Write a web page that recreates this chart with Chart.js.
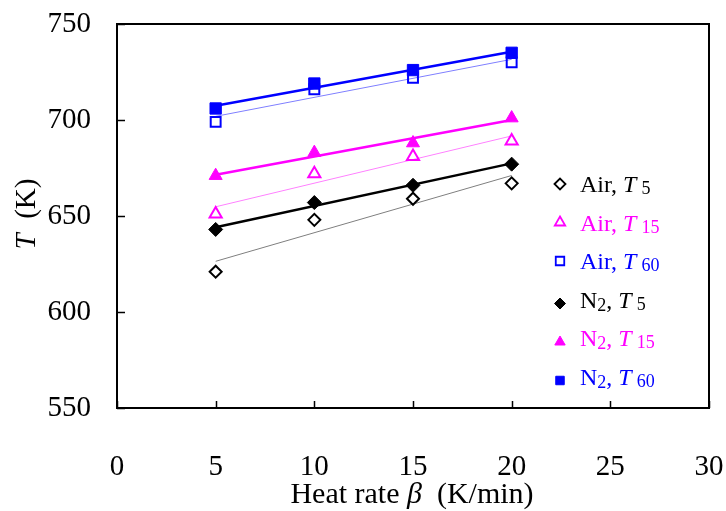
<!DOCTYPE html>
<html>
<head>
<meta charset="utf-8">
<title>T vs heat rate</title>
<script src="https://cdn.jsdelivr.net/npm/chart.js@4.4.0/dist/chart.umd.min.js"></script>
<style>
  html, body { margin: 0; padding: 0; background: #fff; }
  #wrap { width: 726px; height: 511px; }
</style>
</head>
<body>
<div id="wrap"><canvas id="chart" width="726" height="511"></canvas></div>
<script>
// heat rate (K/min) and characteristic temperatures (K)
const heatRates = [5, 10, 15, 20];
const airT5  = [621, 648, 659, 667];
const airT15 = [651, 672, 681, 689];
const airT60 = [699, 716, 722, 730];
const n2T5   = [643, 657, 666, 677];
const n2T15  = [671, 683, 688, 701];
const n2T60  = [706, 719, 726, 735];

const xTicks = [0, 5, 10, 15, 20, 25, 30];
const yTicks = [550, 600, 650, 700, 750];

const SERIF = '"Liberation Serif", "DejaVu Serif", serif';
const BLACK = '#000000', MAGENTA = '#FF00FF', BLUE = '#0000FF';

// gas, subscript of T, values, marker, filled, colour, trend colour/width
const series = [
  { gas: 'Air', sub: '5',  data: airT5,  style: 'rectRot',  fill: false, color: BLACK,   line: '#7f7f7f', lw: 1,   r: 6 },
  { gas: 'Air', sub: '15', data: airT15, style: 'triangle', fill: false, color: MAGENTA, line: '#ff80ff', lw: 1,   r: 7 },
  { gas: 'Air', sub: '60', data: airT60, style: 'rect',     fill: false, color: BLUE,    line: '#7f7fff', lw: 1,   r: 7 },
  { gas: 'N2',  sub: '5',  data: n2T5,   style: 'rectRot',  fill: true,  color: BLACK,   line: BLACK,     lw: 2.5, r: 7 },
  { gas: 'N2',  sub: '15', data: n2T15,  style: 'triangle', fill: true,  color: MAGENTA, line: MAGENTA,   lw: 2.5, r: 7.5 },
  { gas: 'N2',  sub: '60', data: n2T60,  style: 'rect',     fill: true,  color: BLUE,    line: BLUE,      lw: 2.5, r: 8 }
];

// least squares straight line through a series, ends at first and last x
function fitLine(xs, ys) {
  const n = xs.length;
  const mx = xs.reduce((a, b) => a + b, 0) / n;
  const my = ys.reduce((a, b) => a + b, 0) / n;
  let sxy = 0, sxx = 0;
  for (let i = 0; i < n; i++) {
    sxy += (xs[i] - mx) * (ys[i] - my);
    sxx += (xs[i] - mx) * (xs[i] - mx);
  }
  const k = sxy / sxx;
  const b = my - k * mx;
  return [{ x: xs[0], y: k * xs[0] + b }, { x: xs[n - 1], y: k * xs[n - 1] + b }];
}

const datasets = [];
series.forEach(s => {
  datasets.push({
    label: s.gas + ' T' + s.sub,
    data: heatRates.map((x, i) => ({ x: x, y: s.data[i] })),
    showLine: false,
    pointStyle: s.style,
    pointRadius: s.r,
    pointHoverRadius: s.r,
    pointBorderWidth: s.fill ? 1 : 2,
    pointBackgroundColor: s.fill ? s.color : 'rgba(0,0,0,0)',
    pointBorderColor: s.color,
    order: 0
  });
});
series.forEach(s => {
  datasets.push({
    label: s.gas + ' T' + s.sub + ' fit',
    data: fitLine(heatRates, s.data),
    showLine: true,
    pointRadius: 0,
    borderColor: s.line,
    borderWidth: s.lw,
    order: 1
  });
});

// draws a run of text pieces one after another; returns the end x
function drawRuns(ctx, runs, x, y, color) {
  ctx.fillStyle = color;
  ctx.textBaseline = 'alphabetic';
  ctx.textAlign = 'left';
  runs.forEach(r => {
    x += r.gap || 0;
    ctx.font = r.font;
    ctx.fillText(r.t, x, y + (r.dy || 0));
    x += ctx.measureText(r.t).width;
  });
  return x;
}

function runsWidth(ctx, runs) {
  let w = 0;
  runs.forEach(r => { ctx.font = r.font; w += (r.gap || 0) + ctx.measureText(r.t).width; });
  return w;
}

const frameAndLabels = {
  id: 'frameAndLabels',
  beforeDatasetsDraw(chart) {
    const ctx = chart.ctx;
    const a = chart.chartArea;
    const xs = chart.scales.x, ys = chart.scales.y;
    ctx.save();
    ctx.strokeStyle = '#000';
    ctx.lineWidth = 2;
    ctx.strokeRect(a.left, a.top, a.right - a.left, a.bottom - a.top);
    // tick marks pointing into the plot
    ctx.beginPath();
    xTicks.forEach(v => {
      const px = Math.round(xs.getPixelForValue(v)) + 0.5;
      ctx.moveTo(px, a.bottom);
      ctx.lineTo(px, a.bottom - 7);
    });
    yTicks.forEach(v => {
      const py = Math.round(ys.getPixelForValue(v)) + 0.5;
      ctx.moveTo(a.left, py);
      ctx.lineTo(a.left + 8, py);
    });
    ctx.lineWidth = 1.5;
    ctx.stroke();
    ctx.restore();
  },
  afterDraw(chart) {
    const ctx = chart.ctx;
    ctx.save();

    // x axis title
    const xRuns = [
      { t: 'Heat rate ', font: '30px ' + SERIF },
      { t: '\u03B2', font: 'italic 30px ' + SERIF },
      { t: '  (K/min)', font: '30px ' + SERIF }
    ];
    const xw = runsWidth(ctx, xRuns);
    drawRuns(ctx, xRuns, 412 - xw / 2, 503, '#000');

    // y axis title, rotated
    const yRuns = [
      { t: 'T', font: 'italic 29px ' + SERIF },
      { t: '  (K)', font: '29px ' + SERIF }
    ];
    const yw = runsWidth(ctx, yRuns);
    ctx.translate(35, 214);
    ctx.rotate(-Math.PI / 2);
    drawRuns(ctx, yRuns, -yw / 2, 0, '#000');
    ctx.setTransform(1, 0, 0, 1, 0, 0);

    // legend
    const main = '24px ' + SERIF, ital = 'italic 24px ' + SERIF, small = '18px ' + SERIF;
    series.forEach((s, i) => {
      const base = 192 + i * 38.5;
      const my = base - (s.gas === 'N2' ? 4 : 8);
      ctx.save();
      ctx.lineWidth = s.fill ? 1 : 1.8;
      ctx.strokeStyle = s.color;
      ctx.fillStyle = s.fill ? s.color : 'rgba(0,0,0,0)';
      Chart.helpers.drawPoint(ctx, { pointStyle: s.style, radius: s.style === 'rectRot' ? 5.5 : 6, rotation: 0, borderWidth: ctx.lineWidth }, 560, my);
      ctx.restore();
      const runs = s.gas === 'N2'
        ? [{ t: 'N', font: main }, { t: '2', font: small, dy: 3 }, { t: ', ', font: main }]
        : [{ t: 'Air, ', font: main }];
      runs.push({ t: 'T', font: ital });
      runs.push({ t: s.sub, font: small, dy: 2, gap: 5 });
      drawRuns(ctx, runs, 580, base, s.color);
    });
    ctx.restore();
  }
};

new Chart(document.getElementById('chart'), {
  type: 'scatter',
  data: { datasets: datasets },
  options: {
    responsive: false,
    animation: false,
    devicePixelRatio: 1,
    layout: { autoPadding: false, padding: { top: 24, right: 17, left: 0, bottom: 0 } },
    plugins: {
      legend: { display: false },
      tooltip: { enabled: false }
    },
    scales: {
      x: {
        type: 'linear',
        min: 0,
        max: 30,
        afterBuildTicks: scale => { scale.ticks = xTicks.map(v => ({ value: v })); },
        afterFit: scale => {
          scale.height = 103;
          scale.paddingLeft = 0; scale.paddingRight = 0;
          scale.paddingTop = 0; scale.paddingBottom = 0;
        },
        grid: { display: false, drawTicks: false },
        border: { display: false },
        ticks: { color: '#000', font: { family: SERIF, size: 29 }, padding: 42, maxRotation: 0 }
      },
      y: {
        type: 'linear',
        min: 550,
        max: 750,
        afterBuildTicks: scale => { scale.ticks = yTicks.map(v => ({ value: v })); },
        afterFit: scale => {
          scale.width = 117;
          scale.paddingLeft = 0; scale.paddingRight = 0;
          scale.paddingTop = 0; scale.paddingBottom = 0;
        },
        grid: { display: false, drawTicks: false },
        border: { display: false },
        ticks: { color: '#000', font: { family: SERIF, size: 29 }, padding: 26 }
      }
    }
  },
  plugins: [frameAndLabels]
});
</script>
</body>
</html>
